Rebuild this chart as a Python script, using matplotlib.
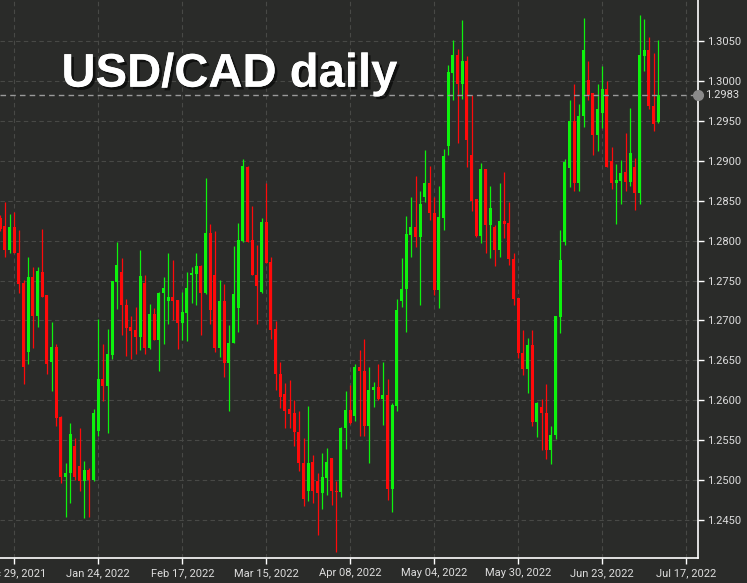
import numpy as np
import matplotlib
matplotlib.use('Agg')
import matplotlib.pyplot as plt
import matplotlib.transforms as mtransforms
import matplotlib.patheffects as pe

# USD/CAD daily candles, Dec 24 2021 .. Jul 11 2022 (business days)
opens = [1.2829, 1.2818, 1.2789, 1.2817, 1.2784, 1.2747, 1.2660, 1.2754, 1.2706, 1.2761,
         1.2732, 1.2648, 1.2667, 1.2579, 1.2504, 1.2509, 1.2542, 1.2517, 1.2498, 1.2512,
         1.2500, 1.2561, 1.2627, 1.2618, 1.2657, 1.2748, 1.2761, 1.2719, 1.2692, 1.2688,
         1.2679, 1.2747, 1.2666, 1.2708, 1.2676, 1.2734, 1.2725, 1.2730, 1.2726, 1.2697,
         1.2709, 1.2757, 1.2758, 1.2768, 1.2734, 1.2810, 1.2757, 1.2666, 1.2725, 1.2647,
         1.2672, 1.2716, 1.2800, 1.2893, 1.2801, 1.2757, 1.2736, 1.2823, 1.2773, 1.2689,
         1.2633, 1.2608, 1.2589, 1.2584, 1.2560, 1.2521, 1.2486, 1.2523, 1.2499, 1.2483,
         1.2502, 1.2528, 1.2486, 1.2485, 1.2565, 1.2588, 1.2580, 1.2641, 1.2637, 1.2568,
         1.2613, 1.2617, 1.2601, 1.2607, 1.2489, 1.2593, 1.2724, 1.2739, 1.2807, 1.2817,
         1.2805, 1.2855, 1.2873, 1.2835, 1.2738, 1.2828, 1.2919, 1.3010, 1.3033, 1.2996,
         1.3026, 1.2907, 1.2852, 1.2806, 1.2890, 1.2820, 1.2817, 1.2789, 1.2825, 1.2822,
         1.2777, 1.2728, 1.2659, 1.2639, 1.2669, 1.2573, 1.2591, 1.2584, 1.2538, 1.2556,
         1.2704, 1.2798, 1.2891, 1.2950, 1.2872, 1.2956, 1.3002, 1.2985, 1.2933, 1.2960,
         1.2990, 1.2900, 1.2873, 1.2875, 1.2886, 1.2874, 1.2892, 1.2860, 1.3032, 1.3039,
         1.2969, 1.2949]
highs = [1.2832, 1.2849, 1.2833, 1.2836, 1.2814, 1.2751, 1.2780, 1.2767, 1.2767, 1.2815,
         1.2732, 1.2698, 1.2671, 1.2580, 1.2521, 1.2571, 1.2553, 1.2565, 1.2524, 1.2515,
         1.2589, 1.2702, 1.2671, 1.2689, 1.2749, 1.2798, 1.2778, 1.2727, 1.2706, 1.2717,
         1.2789, 1.2757, 1.2721, 1.2716, 1.2736, 1.2754, 1.2784, 1.2776, 1.2726, 1.2736,
         1.2761, 1.2767, 1.2784, 1.2770, 1.2879, 1.2821, 1.2812, 1.2751, 1.2746, 1.2694,
         1.2793, 1.2822, 1.2902, 1.2894, 1.2843, 1.2795, 1.2828, 1.2873, 1.2779, 1.2699,
         1.2648, 1.2622, 1.2625, 1.2600, 1.2586, 1.2553, 1.2593, 1.2531, 1.2509, 1.2534,
         1.2540, 1.2528, 1.2498, 1.2566, 1.2612, 1.2619, 1.2645, 1.2663, 1.2677, 1.2642,
         1.2623, 1.2645, 1.2648, 1.2626, 1.2596, 1.2727, 1.2778, 1.2831, 1.2855, 1.2881,
         1.2862, 1.2914, 1.2894, 1.2855, 1.2869, 1.2915, 1.3020, 1.3052, 1.3040, 1.3077,
         1.3032, 1.2983, 1.2852, 1.2897, 1.2890, 1.2869, 1.2820, 1.2873, 1.2886, 1.2849,
         1.2784, 1.2728, 1.2688, 1.2678, 1.2688, 1.2598, 1.2602, 1.2620, 1.2567, 1.2706,
         1.2814, 1.2902, 1.2976, 1.2996, 1.2971, 1.3079, 1.3025, 1.2985, 1.2997, 1.3019,
         1.3001, 1.2918, 1.2896, 1.2901, 1.2935, 1.2967, 1.2904, 1.3083, 1.3078, 1.3056,
         1.3036, 1.3052]
lows = [1.2812, 1.2780, 1.2784, 1.2784, 1.2734, 1.2620, 1.2645, 1.2666, 1.2692, 1.2730,
        1.2633, 1.2612, 1.2568, 1.2496, 1.2454, 1.2471, 1.2500, 1.2486, 1.2452, 1.2454,
        1.2498, 1.2555, 1.2599, 1.2559, 1.2652, 1.2714, 1.2682, 1.2656, 1.2652, 1.2658,
        1.2663, 1.2658, 1.2664, 1.2675, 1.2636, 1.2671, 1.2696, 1.2701, 1.2664, 1.2675,
        1.2674, 1.2722, 1.2719, 1.2682, 1.2733, 1.2696, 1.2660, 1.2654, 1.2629, 1.2587,
        1.2672, 1.2686, 1.2798, 1.2799, 1.2757, 1.2695, 1.2735, 1.2772, 1.2677, 1.2613,
        1.2590, 1.2565, 1.2565, 1.2542, 1.2511, 1.2467, 1.2473, 1.2471, 1.2431, 1.2464,
        1.2481, 1.2469, 1.2410, 1.2479, 1.2539, 1.2570, 1.2574, 1.2555, 1.2555, 1.2521,
        1.2592, 1.2600, 1.2569, 1.2475, 1.2460, 1.2587, 1.2717, 1.2686, 1.2779, 1.2792,
        1.2720, 1.2848, 1.2826, 1.2732, 1.2715, 1.2814, 1.2908, 1.2977, 1.2922, 1.2978,
        1.2893, 1.2837, 1.2805, 1.2797, 1.2784, 1.2778, 1.2768, 1.2780, 1.2804, 1.2770,
        1.2720, 1.2653, 1.2632, 1.2609, 1.2567, 1.2554, 1.2537, 1.2526, 1.2520, 1.2551,
        1.2684, 1.2795, 1.2868, 1.2863, 1.2862, 1.2943, 1.2977, 1.2907, 1.2913, 1.2942,
        1.2892, 1.2865, 1.2821, 1.2846, 1.2863, 1.2869, 1.2839, 1.2846, 1.3013, 1.2965,
        1.2938, 1.2948]
closes = [1.2815, 1.2789, 1.2817, 1.2784, 1.2746, 1.2641, 1.2754, 1.2706, 1.2762, 1.2730,
          1.2645, 1.2667, 1.2578, 1.2504, 1.2509, 1.2558, 1.2504, 1.2498, 1.2512, 1.2500,
          1.2584, 1.2627, 1.2618, 1.2658, 1.2749, 1.2770, 1.2719, 1.2690, 1.2687, 1.2679,
          1.2756, 1.2666, 1.2708, 1.2676, 1.2735, 1.2741, 1.2730, 1.2725, 1.2697, 1.2711,
          1.2741, 1.2759, 1.2768, 1.2734, 1.2810, 1.2713, 1.2666, 1.2725, 1.2647, 1.2672,
          1.2733, 1.2801, 1.2894, 1.2799, 1.2757, 1.2743, 1.2823, 1.2772, 1.2688, 1.2633,
          1.2604, 1.2587, 1.2583, 1.2560, 1.2521, 1.2476, 1.2521, 1.2486, 1.2483, 1.2503,
          1.2523, 1.2486, 1.2485, 1.2565, 1.2588, 1.2571, 1.2641, 1.2636, 1.2568, 1.2613,
          1.2617, 1.2601, 1.2607, 1.2489, 1.2594, 1.2713, 1.2740, 1.2809, 1.2817, 1.2805,
          1.2846, 1.2873, 1.2835, 1.2738, 1.2830, 1.2906, 1.3012, 1.3033, 1.2996, 1.3026,
          1.2927, 1.2850, 1.2806, 1.2890, 1.2820, 1.2841, 1.2789, 1.2825, 1.2821, 1.2777,
          1.2727, 1.2659, 1.2639, 1.2669, 1.2573, 1.2596, 1.2584, 1.2538, 1.2556, 1.2705,
          1.2776, 1.2899, 1.2950, 1.2872, 1.2957, 1.3039, 1.2983, 1.2933, 1.2965, 1.2990,
          1.2892, 1.2873, 1.2876, 1.2885, 1.2874, 1.2910, 1.2860, 1.3033, 1.3039, 1.2969,
          1.2946, 1.2983]

# x tick labels every 18 bars (starting at bar 3)
date_ticks = [3, 21, 39, 57, 75, 93, 111, 129, 147]
date_labels = ['Dec 29, 2021', 'Jan 24, 2022', 'Feb 17, 2022', 'Mar 15, 2022', 'Apr 08, 2022',
               'May 04, 2022', 'May 30, 2022', 'Jun 23, 2022', 'Jul 17, 2022']
price_ticks = [1.2450, 1.2500, 1.2550, 1.2600, 1.2650, 1.2700, 1.2750, 1.2800,
               1.2850, 1.2900, 1.2950, 1.3000, 1.3050]
last_price = 1.2983

BG = '#2a2b29'
UP = '#0df20d'
DOWN = '#ff0a0a'
TXT = '#dddddd'

o = np.array(opens)
h = np.array(highs)
l = np.array(lows)
c = np.array(closes)
x = np.arange(len(o))
colors = np.where(c >= o, UP, DOWN)

fig = plt.figure(figsize=(7.47, 5.83), dpi=100, facecolor=BG)
ax = fig.add_axes([0, 1 - 558 / 583, 697.5 / 747, 558 / 583])
ax.set_facecolor(BG)

# grid
ax.set_xticks(date_ticks)
ax.set_yticks(price_ticks)
ax.grid(True, color='#484946', linestyle=(0, (4, 3)), linewidth=0.8)
ax.set_axisbelow(True)

# candles
ax.vlines(x, l, h, colors=colors, linewidth=0.9, zorder=2)
body = np.maximum(np.abs(c - o), 0.00006)
ax.bar(x, body, bottom=np.minimum(o, c), width=0.64, color=colors, linewidth=0, zorder=3)

ax.set_xlim(-0.06, 149.4)
ax.set_ylim(1.2402, 1.3102)

# current price line
ax.axhline(last_price, color='#9a9a9a', linestyle=(0, (4, 3)), linewidth=1, zorder=4)
trans = mtransforms.blended_transform_factory(ax.transAxes, ax.transData)
ax.plot([1.0], [last_price], marker='o', ms=7, color='#8a8a8a', transform=trans,
        clip_on=False, zorder=6)
ax.annotate('%.4f' % last_price, xy=(1.0, last_price), xycoords=trans,
            xytext=(5.5, 0), textcoords='offset points', va='center', ha='left',
            color=TXT, fontsize=8, family='Roboto')

# axes styling
ax.yaxis.tick_right()
ax.set_xticklabels(date_labels)
ax.set_yticklabels(['%.4f' % p for p in price_ticks])
ax.tick_params(axis='both', colors='white', labelcolor=TXT, labelsize=8, length=4, width=1)
ax.tick_params(axis='y', pad=3)
ax.tick_params(axis='x', pad=3)
for lab in ax.get_xticklabels() + ax.get_yticklabels():
    lab.set_family('Roboto')
for s in ['top', 'left']:
    ax.spines[s].set_visible(False)
for s in ['bottom', 'right']:
    ax.spines[s].set_color('white')
    ax.spines[s].set_linewidth(1.2)

# title
fig.text(61.5 / 747, 1 - 86.7 / 583, 'USD/CAD daily', color='white', fontsize=34,
         fontweight='bold', family='Liberation Sans', va='baseline', ha='left',
         path_effects=[pe.withSimplePatchShadow(offset=(2, -2), shadow_rgbFace='black', alpha=0.6),
                       pe.Normal()])

fig.savefig('out.png', dpi=100, facecolor=BG)
